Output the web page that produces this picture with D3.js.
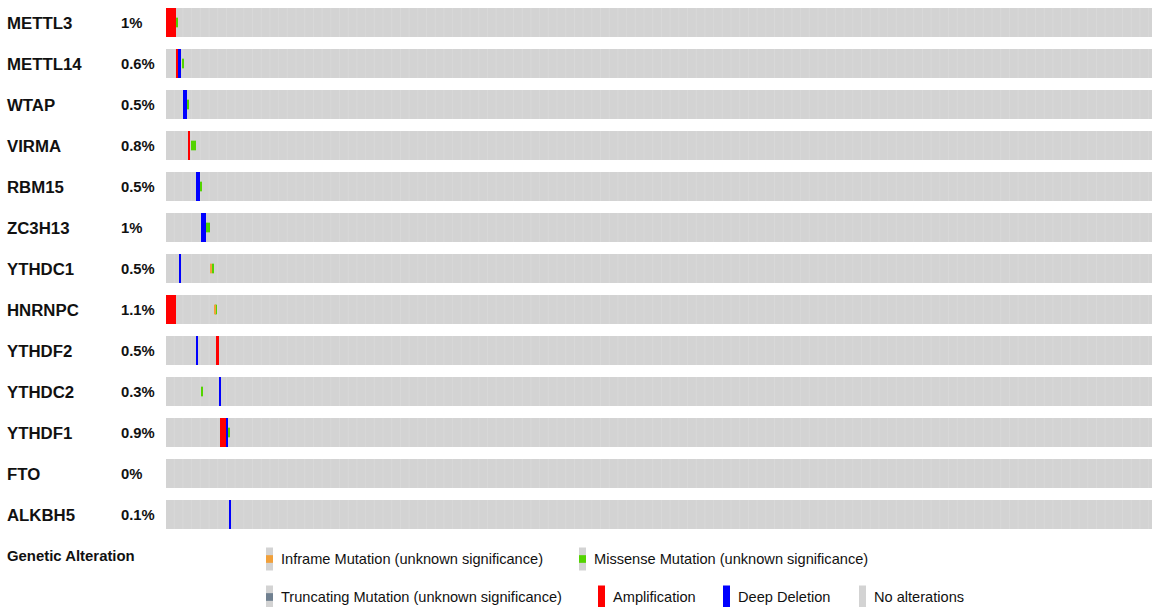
<!DOCTYPE html>
<html>
<head>
<meta charset="utf-8">
<script src="https://cdn.jsdelivr.net/npm/d3@7/dist/d3.min.js"></script>
<style>
  html, body { margin: 0; padding: 0; background: #ffffff; }
  svg { display: block; font-family: Arial, "Liberation Sans", sans-serif; }
</style>
</head>
<body>
<svg id="chart" width="1154" height="607"></svg>
<script>
// Genes shown as rows, top to bottom
const genes = ["METTL3", "METTL14", "WTAP", "VIRMA", "RBM15", "ZC3H13", "YTHDC1",
               "HNRNPC", "YTHDF2", "YTHDC2", "YTHDF1", "FTO", "ALKBH5"];
// Percentage of samples altered, per gene
const alteredPct = ["1%", "0.6%", "0.5%", "0.8%", "0.5%", "1%", "0.5%",
                    "1.1%", "0.5%", "0.3%", "0.9%", "0%", "0.1%"];
// Number of sample columns in the cohort
const totalSamples = 1000;

// Altered sample runs: [gene, first sample index, last sample index]
const amplification = [
  ["METTL3", 0, 9], ["METTL14", 10, 11], ["VIRMA", 22, 23], ["ZC3H13", 35, 35],
  ["HNRNPC", 0, 9], ["YTHDF2", 51, 53], ["YTHDF1", 55, 60]
];
const deepDeletion = [
  ["METTL14", 12, 14], ["WTAP", 17, 20], ["RBM15", 30, 33], ["ZC3H13", 36, 40],
  ["YTHDC1", 13, 13], ["YTHDF2", 30, 31], ["YTHDC2", 54, 55], ["YTHDF1", 61, 62],
  ["ALKBH5", 64, 64]
];
const missense = [
  ["METTL3", 10, 10], ["METTL14", 16, 16], ["WTAP", 21, 21], ["VIRMA", 25, 29],
  ["RBM15", 34, 34], ["ZC3H13", 41, 44], ["YTHDC1", 47, 48], ["HNRNPC", 50, 50],
  ["YTHDC2", 36, 36], ["YTHDF1", 63, 63]
];
const inframe = [["YTHDC1", 45, 46], ["HNRNPC", 49, 49]];

// Legend entries: [label, kind]
const legendItems = [
  ["Inframe Mutation (unknown significance)", "inframe"],
  ["Missense Mutation (unknown significance)", "missense"],
  ["Truncating Mutation (unknown significance)", "truncating"],
  ["Amplification", "amp"],
  ["Deep Deletion", "del"],
  ["No alterations", "none"]
];

const colors = {
  none: "#d3d3d3",
  amp: "#ff0000",
  del: "#0000ff",
  missense: "#53d400",
  inframe: "#f1a03a",
  truncating: "#708090"
};

const svg = d3.select("#chart");

// sample columns snap to whole pixels
const x = d3.scaleLinear().domain([0, totalSamples]).range([166, 1152]).interpolate(d3.interpolateRound);
const y = d3.scaleBand().domain(genes).range([8, 529]).paddingInner(12 / 41).paddingOuter(0);
const cellH = y.bandwidth();
const minMarkW = 2; // keep single-sample marks visible

// faint column texture in the background track
const defs = svg.append("defs");
const pat = defs.append("pattern")
  .attr("id", "track")
  .attr("patternUnits", "userSpaceOnUse")
  .attr("x", 166).attr("y", 0)
  .attr("width", 8.7).attr("height", 10);
pat.append("rect").attr("width", 8.7).attr("height", 10).attr("fill", colors.none);
pat.append("rect").attr("x", 7.9).attr("width", 0.8).attr("height", 10).attr("fill", "#d9d9d9");

// background tracks
svg.append("g").selectAll("rect")
  .data(genes)
  .join("rect")
  .attr("x", x(0))
  .attr("y", d => y(d))
  .attr("width", x(totalSamples) - x(0))
  .attr("height", cellH)
  .attr("fill", "url(#track)");

// gene names
svg.append("g").selectAll("text")
  .data(genes)
  .join("text")
  .attr("x", 7)
  .attr("y", d => y(d) + cellH / 2)
  .attr("dy", "0.36em")
  .attr("font-size", 16.8)
  .attr("font-weight", "bold")
  .attr("fill", "#111")
  .text(d => d);

// altered percentages
svg.append("g").selectAll("text")
  .data(genes)
  .join("text")
  .attr("x", 121)
  .attr("y", d => y(d) + cellH / 2)
  .attr("dy", "0.36em")
  .attr("font-size", 14.8)
  .attr("font-weight", "bold")
  .attr("fill", "#111")
  .text((d, i) => alteredPct[i]);

// alteration marks; mutations are a centered third-height mark
function drawRuns(data, color, frac) {
  svg.append("g")
    .selectAll("rect")
    .data(data)
    .join("rect")
    .attr("x", d => x(d[1]))
    .attr("width", d => Math.max(minMarkW, x(d[2] + 1) - x(d[1])))
    .attr("y", d => y(d[0]) + cellH * (1 - frac) / 2)
    .attr("height", cellH * frac)
    .attr("fill", color);
}
drawRuns(amplification, colors.amp, 1);
drawRuns(deepDeletion, colors.del, 1);
drawRuns(missense, colors.missense, 1 / 3);
drawRuns(inframe, colors.inframe, 1 / 3);

// legend
svg.append("text")
  .attr("x", 7).attr("y", 556).attr("dy", "0.36em")
  .attr("font-size", 14.9).attr("font-weight", "bold").attr("fill", "#111")
  .text("Genetic Alteration");

const legendPos = [
  [266, 559], [579, 559],
  [266, 597], [598, 597], [723, 597], [859, 597]
];
const lg = svg.append("g").selectAll("g")
  .data(legendItems)
  .join("g")
  .attr("transform", (d, i) => `translate(${legendPos[i][0]},${legendPos[i][1]})`);

const iconW = 7, iconH = 23;
lg.append("rect")
  .attr("x", 0).attr("y", -iconH / 2)
  .attr("width", iconW).attr("height", iconH)
  .attr("fill", d => (d[1] === "amp" || d[1] === "del") ? colors[d[1]] : colors.none);
lg.filter(d => ["inframe", "missense", "truncating"].includes(d[1]))
  .append("rect")
  .attr("x", 0).attr("y", -iconH / 6)
  .attr("width", iconW).attr("height", iconH / 3)
  .attr("fill", d => colors[d[1]]);
lg.append("text")
  .attr("x", 15).attr("dy", "0.36em")
  .attr("font-size", 14.6).attr("fill", "#111")
  .text(d => d[0]);
</script>
</body>
</html>
